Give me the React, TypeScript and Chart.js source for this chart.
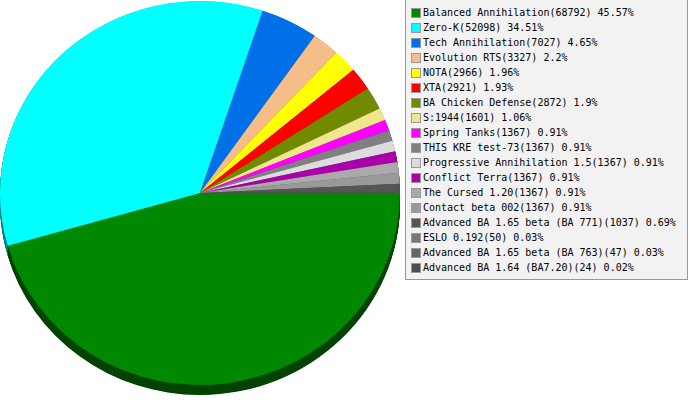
import React, { useEffect, useRef } from "react";
import { Chart, registerables } from "chart.js";

Chart.register(...registerables);

const names = [
  "Balanced Annihilation",
  "Zero-K",
  "Tech Annihilation",
  "Evolution RTS",
  "NOTA",
  "XTA",
  "BA Chicken Defense",
  "S:1944",
  "Spring Tanks",
  "THIS KRE test-73",
  "Progressive Annihilation 1.5",
  "Conflict Terra",
  "The Cursed 1.20",
  "Contact beta 002",
  "Advanced BA 1.65 beta (BA 771)",
  "ESLO 0.192",
  "Advanced BA 1.65 beta (BA 763)",
  "Advanced BA 1.64 (BA7.20)",
];
const counts = [68792, 52098, 7027, 3327, 2966, 2921, 2872, 1601, 1367, 1367, 1367, 1367, 1367, 1367, 1037, 50, 47, 24];
const percents = ["45.57", "34.51", "4.65", "2.2", "1.96", "1.93", "1.9", "1.06", "0.91", "0.91", "0.91", "0.91", "0.91", "0.91", "0.69", "0.03", "0.03", "0.02"];
const colors = [
  "#008800", "#00ffff", "#0070e8", "#f5be88", "#ffff00", "#ff0000", "#728a00", "#f0e68c", "#ff00ff",
  "#808080", "#dcdcdc", "#aa00aa", "#aaaaaa", "#999999", "#555555", "#777777", "#666666", "#4d4d4d",
];

function darken(hex: string, f: number) {
  const n = parseInt(hex.slice(1), 16);
  const r = Math.round(((n >> 16) & 255) * f);
  const g = Math.round(((n >> 8) & 255) * f);
  const b = Math.round((n & 255) * f);
  return `rgb(${r},${g},${b})`;
}

const CY = 193;
const SY = 0.96;
const DEPTH = 10;

const pie3d = {
  id: "pie3d",
  beforeDatasetsDraw(chart: any) {
    const ctx = chart.ctx;
    const meta = chart.getDatasetMeta(0);
    const arcs = meta.data;
    if (!arcs.length) return;
    const cy0 = arcs[0].y;
    ctx.save();
    ctx.translate(0, CY);
    ctx.scale(1, SY);
    ctx.translate(0, -cy0);
    const d = DEPTH / SY;
    for (let off = d; off > 0; off -= 0.5) {
      arcs.forEach((a: any, i: number) => {
        ctx.beginPath();
        ctx.moveTo(a.x, a.y + off);
        ctx.arc(a.x, a.y + off, a.outerRadius, a.startAngle, a.endAngle);
        ctx.closePath();
        ctx.fillStyle = darken(colors[i], 0.5);
        ctx.fill();
      });
    }
  },
  afterDatasetsDraw(chart: any) {
    chart.ctx.restore();
  },
};

export default function App() {
  const ref = useRef<HTMLCanvasElement | null>(null);
  useEffect(() => {
    if (!ref.current) return;
    const chart = new Chart(ref.current, {
      type: "pie",
      data: {
        labels: names,
        datasets: [
          {
            data: counts,
            backgroundColor: colors,
            borderWidth: 0,
            hoverOffset: 0,
          },
        ],
      },
      options: {
        animation: false,
        responsive: false,
        rotation: 90,
        layout: { padding: 0 },
        plugins: { legend: { display: false }, tooltip: { enabled: false } },
        events: [],
      },
      plugins: [pie3d],
    });
    return () => chart.destroy();
  }, []);

  return (
    <div style={{ position: "absolute", left: 0, top: 0, width: 689, height: 400, background: "#fff", overflow: "hidden" }}>
      <canvas ref={ref} width={400} height={400} style={{ position: "absolute", left: 0, top: 0, width: 400, height: 400 }} />
      <div
        style={{
          position: "absolute",
          left: 405,
          top: -1,
          width: 281,
          height: 279,
          border: "1px solid #999999",
          background: "#f2f2f2",
          fontFamily: "'DejaVu Sans Mono', monospace",
          fontSize: 10,
          color: "#000",
        }}
      >
        <div style={{ position: "absolute", left: 0, top: 5 }}>
          {names.map((n, i) => (
            <div key={i} style={{ height: 15, lineHeight: "15px", display: "flex", alignItems: "center", whiteSpace: "nowrap" }}>
              <span
                style={{
                  display: "inline-block",
                  marginLeft: 5,
                  width: 8,
                  height: 8,
                  border: "1px solid #999999",
                  background: colors[i],
                  marginRight: 2,
                }}
              />
              <span>{`${n}(${counts[i]}) ${percents[i]}%`}</span>
            </div>
          ))}
        </div>
      </div>
    </div>
  );
}
